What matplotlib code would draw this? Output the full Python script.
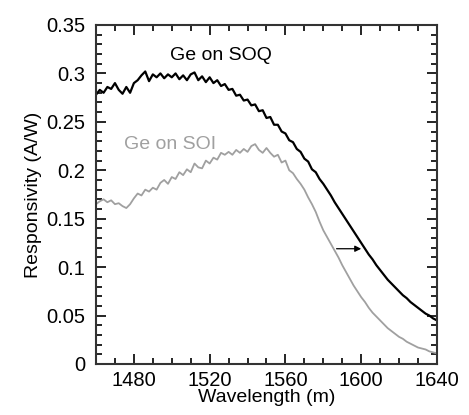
import numpy as np
import matplotlib
matplotlib.use('Agg')
import matplotlib.pyplot as plt
from matplotlib.ticker import MultipleLocator, FuncFormatter

plt.rcParams['font.family'] = ['Liberation Sans', 'DejaVu Sans']

wavelength = np.arange(1460, 1641, 2)

soq = [0.278, 0.283, 0.280, 0.286, 0.284, 0.290, 0.283, 0.279, 0.286, 0.280,
       0.290, 0.293, 0.298, 0.302, 0.292, 0.299, 0.296, 0.300, 0.295, 0.299,
       0.296, 0.300, 0.294, 0.298, 0.293, 0.299, 0.301, 0.293, 0.297, 0.291,
       0.296, 0.290, 0.293, 0.287, 0.289, 0.283, 0.284, 0.277, 0.278, 0.272,
       0.273, 0.267, 0.268, 0.261, 0.262, 0.254, 0.255, 0.247, 0.247, 0.240,
       0.238, 0.231, 0.229, 0.222, 0.219, 0.212, 0.209, 0.201, 0.198, 0.191,
       0.186, 0.180, 0.174, 0.167, 0.161, 0.155, 0.149, 0.143, 0.137, 0.131,
       0.125, 0.119, 0.113, 0.108, 0.102, 0.097, 0.092, 0.087, 0.083, 0.079,
       0.075, 0.071, 0.068, 0.064, 0.061, 0.058, 0.055, 0.052, 0.050, 0.047,
       0.045]

soi = [0.165, 0.168, 0.170, 0.167, 0.169, 0.165, 0.166, 0.163, 0.161, 0.165,
       0.171, 0.176, 0.174, 0.180, 0.178, 0.182, 0.180, 0.187, 0.190, 0.186,
       0.193, 0.191, 0.198, 0.195, 0.201, 0.198, 0.207, 0.203, 0.202, 0.210,
       0.207, 0.213, 0.211, 0.218, 0.216, 0.219, 0.216, 0.221, 0.218, 0.222,
       0.219, 0.225, 0.227, 0.221, 0.218, 0.223, 0.218, 0.214, 0.216, 0.208,
       0.210, 0.200, 0.197, 0.191, 0.186, 0.180, 0.172, 0.165, 0.157, 0.147,
       0.138, 0.131, 0.124, 0.117, 0.110, 0.102, 0.095, 0.088, 0.081, 0.075,
       0.069, 0.064, 0.058, 0.053, 0.049, 0.045, 0.041, 0.037, 0.034, 0.031,
       0.028, 0.026, 0.023, 0.021, 0.019, 0.017, 0.016, 0.015, 0.013, 0.012,
       0.011]

fig = plt.figure(figsize=(4.69, 4.15), dpi=100)
ax = fig.add_axes([0.2047, 0.1229, 0.727, 0.8169])

ax.plot(wavelength, soi, color='#a0a0a0', lw=1.3)
ax.plot(wavelength, soq, color='black', lw=1.6)

ax.annotate('', xy=(1600, 0.119), xytext=(1587, 0.119),
            arrowprops=dict(arrowstyle='-|>', color='black', lw=0.9,
                            mutation_scale=9, shrinkA=0, shrinkB=0))

ax.text(1526, 0.318, 'Ge on SOQ', fontsize=14, ha='center', va='center', color='black')
ax.text(1499, 0.227, 'Ge on SOI', fontsize=14, ha='center', va='center', color='#a0a0a0')

ax.set_xlim(1460, 1640)
ax.set_ylim(0, 0.35)
ax.set_xticks([1480, 1520, 1560, 1600, 1640])
ax.xaxis.set_minor_locator(MultipleLocator(10))
ax.yaxis.set_major_locator(MultipleLocator(0.05))
ax.yaxis.set_minor_locator(MultipleLocator(0.01))
ax.yaxis.set_major_formatter(FuncFormatter(lambda v, p: '%g' % round(v, 3)))

ax.tick_params(which='both', direction='in', top=True, right=True, labelsize=14.5, width=1.2)
ax.tick_params(which='major', length=7)
ax.tick_params(which='minor', length=4)
ax.tick_params(axis='x', which='major', pad=5)
ax.tick_params(axis='y', which='major', pad=8)
for s in ax.spines.values():
    s.set_linewidth(1.5)
    s.set_color('#333333')

ax.set_xlabel('Wavelength (m)', fontsize=14, labelpad=-1)
ax.set_ylabel('Responsivity (A/W)', fontsize=14, labelpad=3)

fig.savefig('out.png', dpi=100)
